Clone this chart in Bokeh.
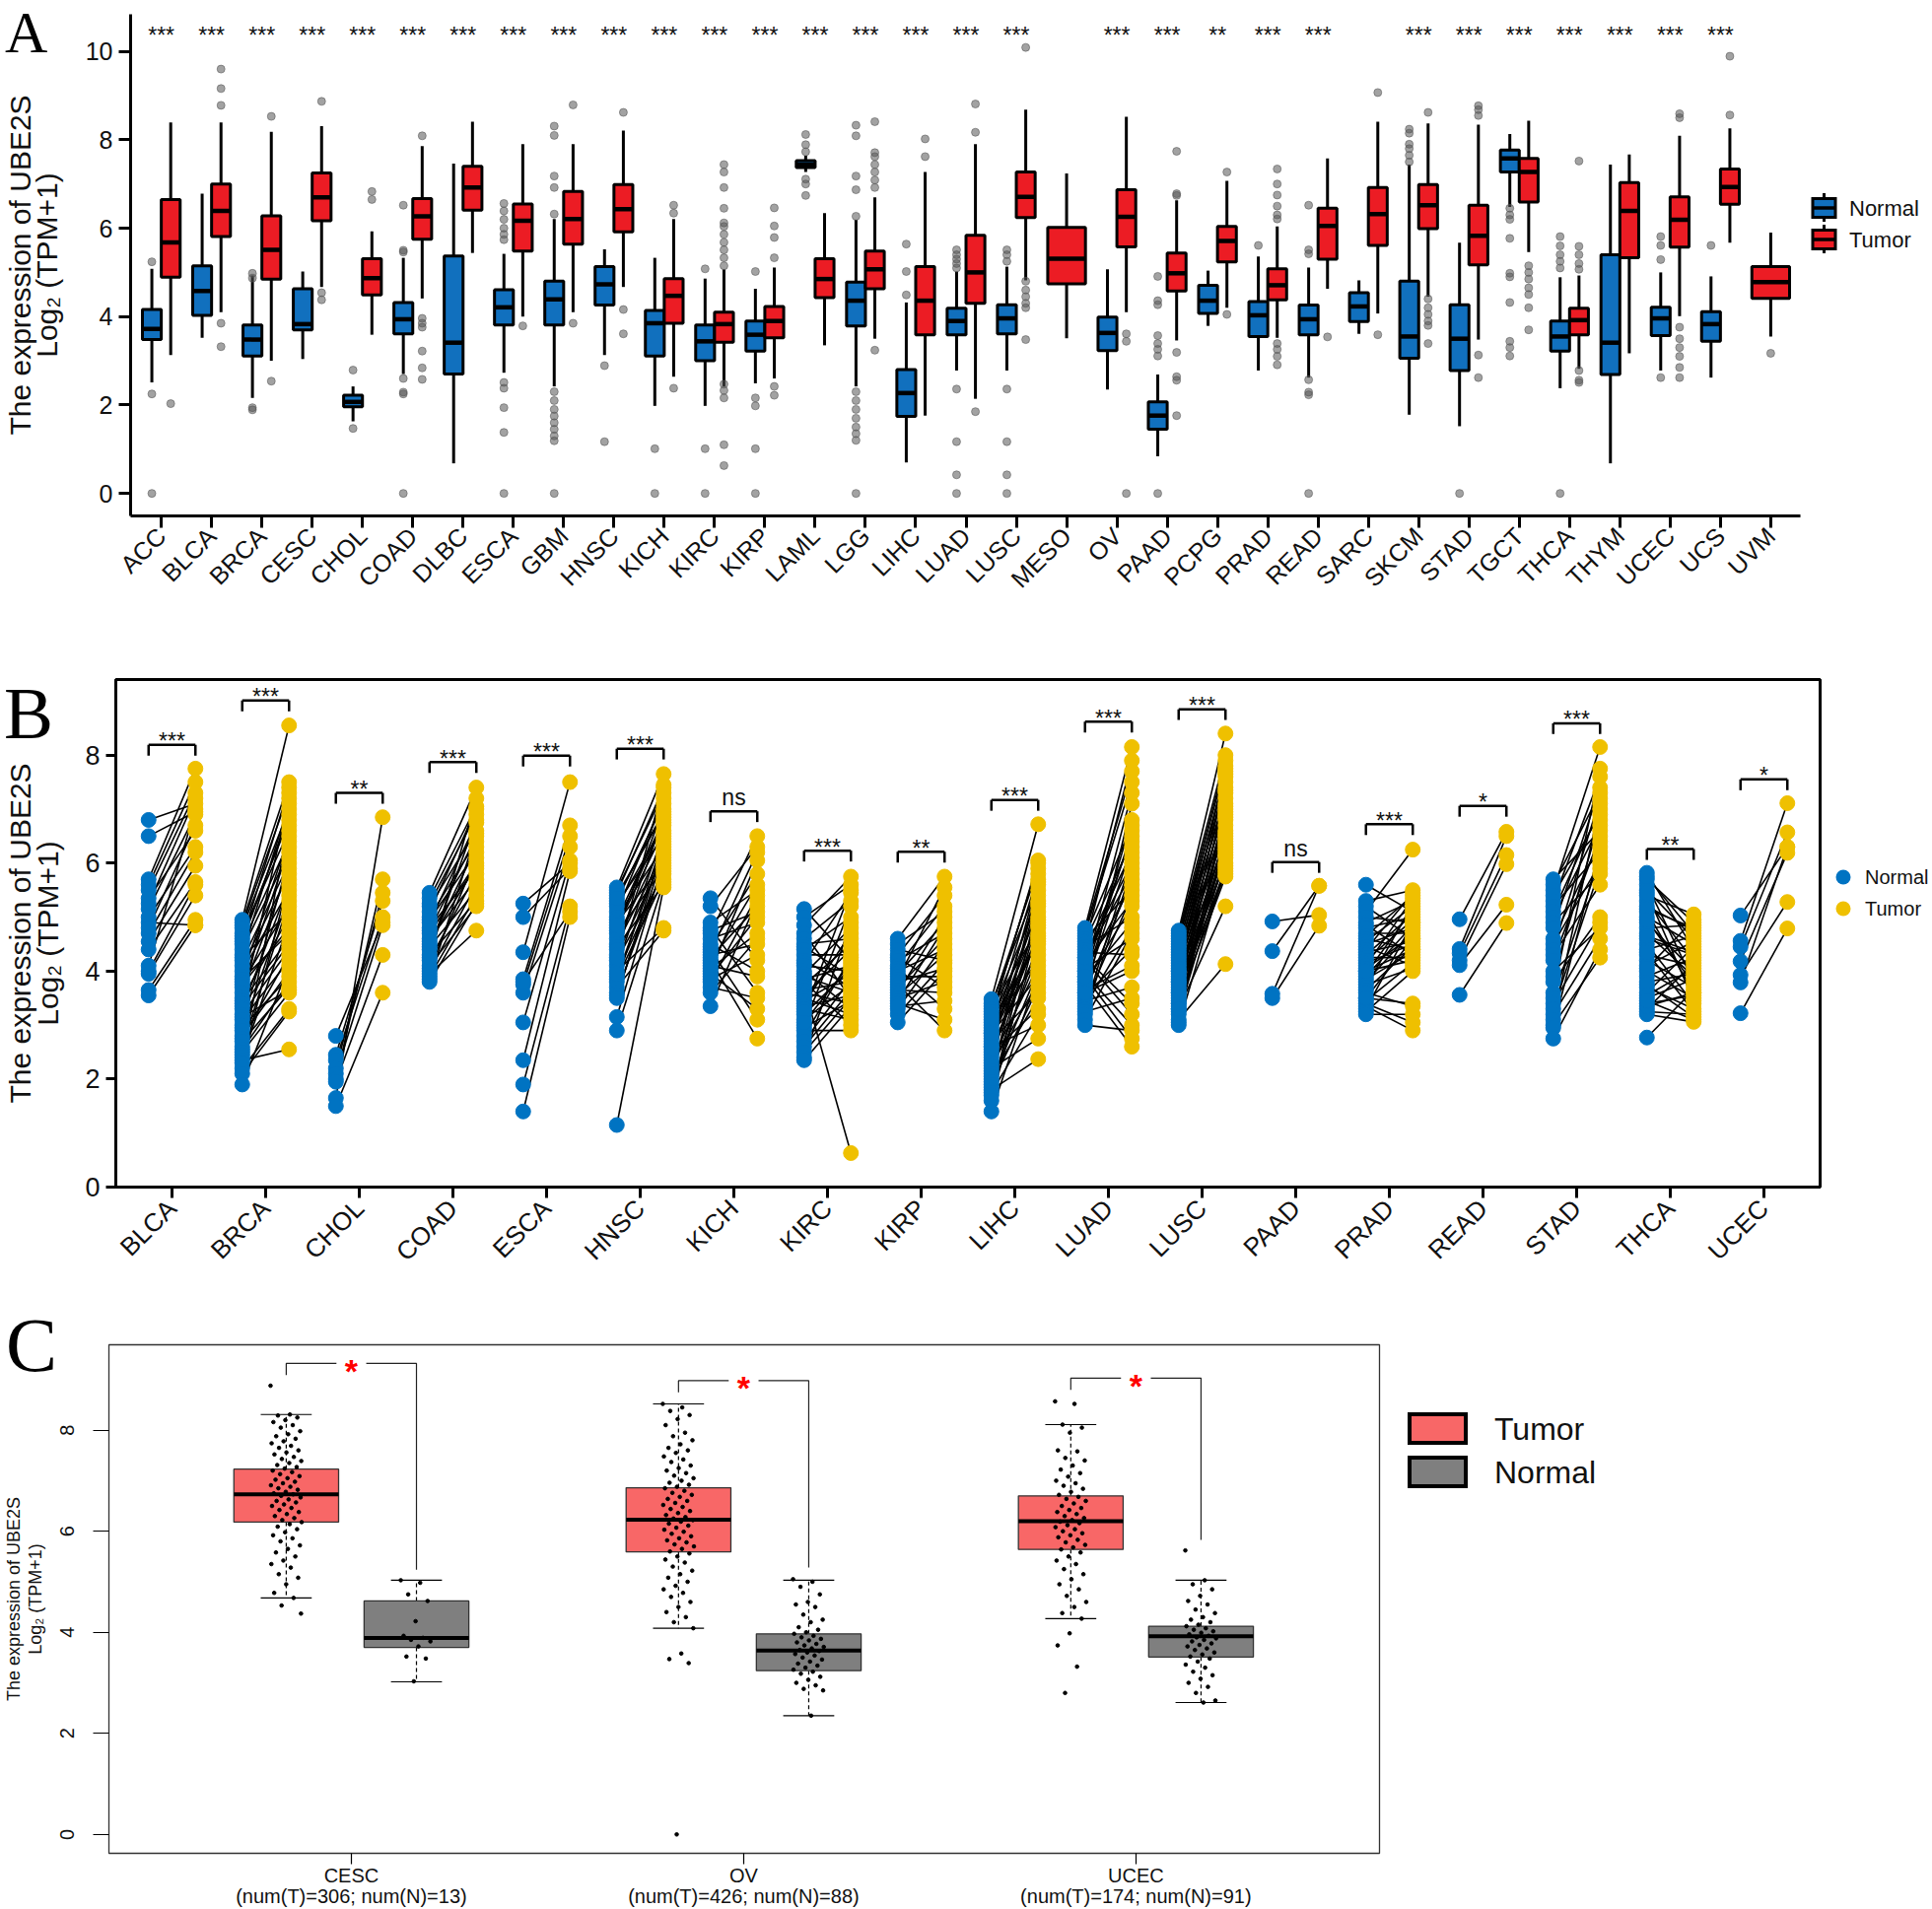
import math
from bokeh.plotting import figure
from bokeh.models import FixedTicker, Range1d, LinearAxis, Div
from bokeh.embed import file_html
from bokeh.resources import INLINE
from bokeh.core.properties import value

SANS = "Liberation Sans"
SERIF = "Liberation Serif"

# ================= Panel A data =================
A_CATS = ["ACC", "BLCA", "BRCA", "CESC", "CHOL", "COAD", "DLBC", "ESCA", "GBM", "HNSC", "KICH",
          "KIRC", "KIRP", "LAML", "LGG", "LIHC", "LUAD", "LUSC", "MESO", "OV", "PAAD", "PCPG",
          "PRAD", "READ", "SARC", "SKCM", "STAD", "TGCT", "THCA", "THYM", "UCEC", "UCS", "UVM"]
A_SIG = ["***"] * 18 + ["", "***", "***", "**", "***", "***", "", "***", "***", "***", "***", "***", "***", "***", ""]
A_GROUPS = ["Normal", "Tumor"]
# [lower whisker, q1, median, q3, upper whisker]
A_NORMAL = [
    [2.51, 3.48, 3.72, 4.16, 5.08], [3.52, 4.03, 4.58, 5.15, 6.78], [2.16, 3.11, 3.48, 3.81, 4.93],
    [3.04, 3.70, 3.83, 4.63, 5.02], [1.63, 1.96, 2.07, 2.22, 2.42], [2.70, 3.61, 3.94, 4.32, 5.33],
    [0.68, 2.70, 3.41, 5.37, 7.46], [2.73, 3.81, 4.21, 4.61, 5.42], [2.42, 3.81, 4.39, 4.80, 6.21],
    [3.13, 4.26, 4.73, 5.13, 5.52], [1.98, 3.11, 3.85, 4.14, 5.33], [1.98, 3.00, 3.44, 3.81, 4.86],
    [2.49, 3.22, 3.59, 3.90, 4.63], [7.27, 7.37, 7.44, 7.53, 7.64], [2.42, 3.79, 4.36, 4.78, 6.19],
    [0.70, 1.74, 2.27, 2.80, 4.32], [2.78, 3.59, 3.90, 4.19, 5.02], [2.78, 3.61, 3.96, 4.27, 5.13],
    None, [2.35, 3.23, 3.63, 3.99, 5.07], [0.84, 1.45, 1.76, 2.07, 2.69], [3.79, 4.07, 4.36, 4.71, 5.04],
    [2.78, 3.55, 4.03, 4.34, 5.36], [2.62, 3.59, 3.94, 4.26, 5.11], [3.61, 3.89, 4.23, 4.54, 4.82],
    [1.78, 3.06, 3.55, 4.80, 7.44], [1.52, 2.78, 3.50, 4.27, 5.67], [6.48, 7.27, 7.58, 7.77, 8.13],
    [2.38, 3.22, 3.55, 3.90, 4.89], [0.68, 2.69, 3.41, 5.40, 7.44], [2.78, 3.57, 3.96, 4.21, 5.00],
    [2.62, 3.44, 3.83, 4.11, 4.91], None]
A_TUMOR = [
    [3.13, 4.89, 5.68, 6.65, 8.39], [4.10, 5.81, 6.39, 7.00, 8.39], [3.00, 4.85, 5.51, 6.28, 8.18],
    [4.67, 6.17, 6.70, 7.25, 8.31], [3.59, 4.49, 4.87, 5.31, 5.93], [4.41, 5.75, 6.27, 6.67, 7.86],
    [5.44, 6.41, 6.92, 7.40, 8.41], [4.00, 5.48, 6.17, 6.55, 7.90], [4.10, 5.64, 6.21, 6.83, 7.90],
    [4.67, 5.92, 6.43, 6.99, 8.21], [2.64, 3.85, 4.47, 4.86, 6.21], [2.42, 3.42, 3.83, 4.10, 5.07],
    [2.60, 3.52, 3.90, 4.23, 5.11], [3.35, 4.43, 4.85, 5.31, 6.34], [3.50, 4.63, 5.07, 5.48, 6.70],
    [1.76, 3.59, 4.36, 5.13, 7.27], [2.14, 4.30, 5.00, 5.84, 7.90], [4.82, 6.24, 6.71, 7.27, 8.68],
    [3.51, 4.74, 5.31, 6.02, 7.24], [4.10, 5.58, 6.26, 6.87, 8.52], [3.46, 4.58, 4.98, 5.44, 6.63],
    [4.20, 5.24, 5.71, 6.04, 7.07], [3.52, 4.38, 4.71, 5.08, 6.04], [4.63, 5.30, 6.05, 6.45, 7.58],
    [4.07, 5.61, 6.32, 6.92, 8.41], [4.45, 5.99, 6.52, 6.99, 8.37], [3.48, 5.17, 5.83, 6.52, 8.34],
    [5.46, 6.59, 7.27, 7.58, 8.43], [2.82, 3.59, 3.92, 4.19, 4.93], [3.17, 5.33, 6.39, 7.03, 7.67],
    [4.01, 5.57, 6.19, 6.71, 8.09], [5.67, 6.54, 6.93, 7.34, 8.26], [3.55, 4.41, 4.78, 5.13, 5.90]]
A_NORMAL_OUT = [
    [5.24, 2.25, 0], [], [4.98, 4.87, 1.94, 1.89], [], [2.79, 1.47],
    [6.52, 5.5, 5.46, 2.6, 2.29, 2.25, 0], [],
    [6.56, 6.39, 6.2, 6.0, 5.86, 5.74, 2.51, 2.38, 1.94, 1.38, 0],
    [8.31, 8.1, 7.18, 6.92, 6.32, 2.3, 2.1, 1.9, 1.75, 1.6, 1.45, 1.3, 1.19, 0],
    [2.89, 1.17], [1.01, 0], [5.08, 1.01, 0], [5.02, 2.16, 1.98, 1.01, 0],
    [8.12, 7.89, 7.73, 7.11, 7.0, 6.74],
    [8.33, 8.09, 7.18, 6.87, 6.27, 2.3, 2.1, 1.9, 1.7, 1.5, 1.35, 1.2, 0],
    [5.64, 5.02, 4.49], [5.51, 5.4, 5.3, 5.2, 5.1, 2.36, 1.17, 0.42, 0],
    [5.51, 5.4, 5.25, 2.36, 1.17, 0.42, 0], [], [], [4.91, 4.36, 4.27, 3.57, 3.39, 3.26, 3.11, 0],
    [], [5.61], [6.52, 5.51, 5.42, 2.57, 2.29, 2.23, 0], [], [8.24, 8.15, 7.9, 7.8, 7.65, 7.5],
    [0], [6.45, 6.3, 6.2, 5.77, 4.98, 4.9, 4.32, 3.44, 3.3, 3.11], [5.81, 5.6, 5.4, 5.25, 5.1, 0],
    [], [5.81, 5.61, 5.29, 2.62], [5.61], []]
A_TUMOR_OUT = [
    [2.03], [9.6, 9.16, 8.78, 3.85, 3.32], [8.53, 2.54], [8.87, 4.54, 4.38], [6.83, 6.65],
    [8.09, 3.96, 3.85, 3.76, 3.22, 2.84, 2.58], [], [3.79], [8.79, 3.85], [8.62, 4.16, 3.61],
    [6.52, 6.34, 2.38],
    [7.44, 7.27, 6.92, 6.45, 6.12, 6.04, 5.86, 5.68, 5.51, 5.33, 5.15, 2.47, 2.33, 2.16, 1.1, 0.63],
    [6.46, 6.05, 5.79, 5.33, 2.42, 2.22], [], [8.41, 7.71, 7.62, 7.44, 7.27, 7.09, 6.92, 3.24],
    [8.02, 7.62], [8.81, 8.17, 1.85], [10.09, 4.8, 4.6, 4.45, 4.3, 4.2, 3.48], [],
    [3.61, 3.44, 0], [7.74, 6.78, 6.74, 3.19, 2.64, 2.56, 1.76], [7.27, 4.05],
    [7.34, 7.0, 6.75, 6.5, 6.3, 6.21, 3.39, 3.26, 3.1, 2.91], [3.54], [9.07, 3.59],
    [8.62, 4.4, 4.2, 4.05, 3.9, 3.8, 3.39], [8.77, 8.68, 8.55, 3.13, 2.62],
    [5.15, 5.0, 4.85, 4.65, 4.5, 4.2, 3.7], [7.52, 5.59, 5.4, 5.2, 5.07, 2.78, 2.56, 2.51], [],
    [8.59, 8.5, 3.76, 3.5, 3.3, 3.1, 2.85, 2.62], [9.89, 8.56], [3.17]]

# ================= Panel B data (normal, tumor) pairs =================
B_CATS = ["BLCA", "BRCA", "CHOL", "COAD", "ESCA", "HNSC", "KICH", "KIRC", "KIRP", "LIHC",
          "LUAD", "LUSC", "PAAD", "PRAD", "READ", "STAD", "THCA", "UCEC"]
B_SIG = ["***", "***", "**", "***", "***", "***", "ns", "***", "**", "***", "***", "***", "ns",
         "***", "*", "***", "**", "*"]
B_BRACKET = [8.19, 9.01, 7.30, 7.87, 7.99, 8.12, 6.96, 6.23, 6.21, 7.17, 8.62, 8.85, 6.02,
             6.72, 7.06, 8.59, 6.26, 7.55]
BLCA_PAIRS = [(6.8, 7.1), (6.5, 6.95), (5.7, 7.75), (5.6, 7.5), (5.5, 7.3), (5.35, 6.6), (5.25, 7.2),
              (5.15, 6.9), (5.0, 6.3), (4.9, 4.85), (4.8, 6.7), (4.7, 6.2), (4.55, 5.95), (4.4, 5.65),
              (4.1, 7.0), (4.0, 5.6), (3.95, 5.4), (3.65, 4.95), (3.55, 4.85)]
BRCA_PAIRS = [(4.95, 8.55), (4.9, 7.5), (4.85, 7.3), (4.8, 7.0), (4.7, 6.6), (4.65, 6.8), (4.6, 7.4),
              (4.55, 6.9), (4.5, 6.4), (4.4, 6.2), (4.3, 7.1), (4.25, 5.1), (4.2, 6.0), (4.1, 5.8),
              (4.0, 5.5), (3.9, 6.5), (3.85, 4.7), (3.8, 5.2), (3.75, 4.8), (3.7, 6.3), (3.6, 5.9),
              (3.5, 5.0), (3.45, 4.6), (3.4, 7.2), (3.35, 4.5), (3.3, 5.6), (3.2, 4.4), (3.15, 3.65),
              (3.1, 4.2), (3.0, 6.1), (2.95, 3.9), (2.9, 5.4), (2.8, 4.0), (2.75, 4.3), (2.7, 3.7),
              (2.6, 5.3), (2.55, 3.8), (2.5, 3.6), (2.45, 6.7), (2.4, 4.9), (2.35, 2.55), (2.3, 5.7),
              (2.2, 3.3), (2.1, 3.25), (1.9, 4.1)]
CHOL_PAIRS = [(2.8, 4.9), (2.45, 5.3), (2.35, 5.0), (2.2, 5.45), (2.1, 4.85), (2.0, 5.7), (1.95, 4.3),
              (1.65, 6.85), (1.5, 3.6)]
COAD_PAIRS = [(5.45, 7.4), (5.35, 7.05), (5.25, 6.9), (5.2, 6.6), (5.1, 7.0), (5.0, 6.4), (4.95, 6.2),
              (4.9, 6.75), (4.8, 5.9), (4.75, 6.5), (4.7, 6.0), (4.6, 5.7), (4.5, 6.3), (4.45, 5.5),
              (4.4, 6.8), (4.3, 5.3), (4.2, 5.8), (4.1, 5.2), (4.05, 6.1), (4.0, 5.6), (3.95, 4.75),
              (3.9, 5.4), (3.85, 6.55), (3.8, 5.25), (4.25, 7.2), (4.55, 5.95)]
ESCA_PAIRS = [(5.25, 6.0), (5.0, 5.9), (4.35, 7.5), (3.85, 6.7), (3.75, 6.5), (3.6, 6.3), (3.05, 6.05),
              (2.35, 5.85), (1.9, 5.2), (1.4, 5.0), (3.8, 5.1)]
HNSC_PAIRS = [(5.55, 7.65), (5.5, 7.3), (5.45, 7.4), (5.4, 6.9), (5.3, 7.1), (5.25, 6.5), (5.2, 6.7),
              (5.1, 7.2), (5.0, 6.3), (4.95, 6.8), (4.9, 6.0), (4.8, 6.6), (4.75, 7.0), (4.7, 5.9),
              (4.6, 6.4), (4.5, 6.2), (4.45, 5.6), (4.4, 6.85), (4.3, 6.1), (4.2, 5.8), (4.1, 6.55),
              (4.0, 4.8), (3.9, 6.25), (3.85, 5.7), (3.8, 6.45), (3.7, 4.75), (3.6, 5.95), (3.55, 6.15),
              (3.5, 6.35), (3.15, 6.05), (2.9, 5.65), (1.15, 5.55), (5.35, 6.95), (4.85, 6.75),
              (4.25, 7.45), (3.95, 5.85)]
KICH_PAIRS = [(5.35, 4.2), (5.2, 6.3), (4.9, 5.5), (4.8, 3.6), (4.7, 6.5), (4.6, 4.9), (4.45, 5.8),
              (4.4, 3.1), (4.35, 6.2), (4.3, 4.5), (4.25, 5.2), (4.2, 2.75), (4.15, 5.6), (4.1, 3.9),
              (4.05, 4.7), (4.0, 6.05), (3.95, 3.3), (3.9, 5.0), (3.85, 4.3), (3.8, 5.4), (3.7, 3.5),
              (3.6, 4.6), (3.35, 5.3), (4.5, 4.0), (4.75, 5.1)]
KIRC_PAIRS = [(5.15, 4.2), (5.0, 5.6), (4.85, 5.75), (4.7, 3.5), (4.6, 5.3), (4.5, 4.6), (4.45, 3.9),
              (4.4, 5.0), (4.3, 4.3), (4.2, 3.7), (4.15, 5.45), (4.1, 4.0), (4.0, 3.3), (3.95, 4.8),
              (3.9, 3.6), (3.85, 4.1), (3.8, 3.0), (3.75, 4.5), (3.7, 0.63), (3.65, 3.8), (3.6, 3.4),
              (3.55, 4.4), (3.5, 3.2), (3.45, 3.95), (3.4, 4.7), (3.35, 3.55), (3.3, 3.1), (3.2, 4.05),
              (3.1, 3.75), (3.0, 5.2), (2.95, 3.45), (2.9, 2.9), (2.8, 4.25), (2.7, 3.85), (2.6, 3.65),
              (2.5, 3.5), (2.4, 4.9), (2.35, 3.35), (3.25, 5.5), (3.05, 4.15)]
KIRP_PAIRS = [(4.6, 5.75), (4.5, 5.1), (4.4, 4.2), (4.3, 5.4), (4.25, 3.7), (4.2, 4.7), (4.1, 5.2),
              (4.05, 3.3), (4.0, 4.4), (3.95, 4.9), (3.9, 3.9), (3.85, 5.55), (3.8, 4.05), (3.75, 2.9),
              (3.7, 4.6), (3.65, 3.6), (3.6, 5.0), (3.55, 4.3), (3.5, 3.8), (3.45, 4.8), (3.4, 3.1),
              (3.3, 4.5), (3.2, 4.15), (3.05, 4.0), (3.35, 3.45)]
LIHC_PAIRS = [(3.48, 6.72), (3.4, 5.6), (3.35, 5.9), (3.3, 4.8), (3.25, 5.3), (3.2, 6.0), (3.1, 4.5),
              (3.05, 5.1), (3.0, 4.2), (2.95, 5.8), (2.9, 4.9), (2.85, 3.9), (2.8, 5.5), (2.75, 4.6),
              (2.7, 3.6), (2.65, 5.2), (2.6, 4.4), (2.55, 5.7), (2.5, 3.3), (2.45, 4.7), (2.4, 5.0),
              (2.35, 4.1), (2.3, 5.4), (2.25, 3.8), (2.2, 2.75), (2.15, 4.3), (2.1, 4.95), (2.05, 3.5),
              (2.0, 5.65), (1.95, 4.0), (1.9, 3.7), (1.85, 4.55), (1.8, 2.37), (1.75, 3.2), (1.7, 5.25),
              (1.6, 4.85), (1.4, 3.95), (2.6, 3.0), (3.15, 6.05), (2.85, 4.65)]
LUAD_PAIRS = [(4.8, 8.15), (4.75, 7.7), (4.7, 7.5), (4.65, 6.7), (4.6, 5.5), (4.55, 6.4), (4.5, 7.9),
              (4.45, 5.0), (4.4, 6.2), (4.35, 4.3), (4.3, 6.0), (4.25, 5.8), (4.2, 3.2), (4.15, 5.3),
              (4.1, 6.5), (4.05, 4.6), (4.0, 5.6), (3.95, 3.0), (3.9, 6.8), (3.85, 4.9), (3.8, 5.2),
              (3.75, 2.6), (3.7, 6.3), (3.65, 4.1), (3.6, 5.7), (3.55, 4.4), (3.5, 7.1), (3.45, 3.7),
              (3.4, 5.4), (3.35, 4.8), (3.3, 6.1), (3.25, 3.5), (3.2, 5.9), (3.1, 4.7), (3.0, 2.9),
              (4.0, 7.3), (3.8, 6.6), (3.6, 4.0), (4.25, 3.4), (3.9, 2.75)]
LUSC_PAIRS = [(4.75, 8.4), (4.7, 8.0), (4.65, 7.8), (4.6, 7.6), (4.55, 7.9), (4.5, 7.4), (4.45, 7.7),
              (4.4, 7.2), (4.35, 7.5), (4.3, 7.0), (4.25, 7.3), (4.2, 6.8), (4.15, 7.1), (4.1, 6.6),
              (4.05, 6.9), (4.0, 6.4), (3.95, 6.7), (3.9, 6.2), (3.85, 6.5), (3.8, 6.0), (3.75, 6.3),
              (3.7, 5.8), (3.65, 6.1), (3.6, 5.9), (3.55, 7.65), (3.5, 6.55), (3.45, 5.75), (3.4, 7.35),
              (3.35, 6.45), (3.3, 5.2), (3.25, 6.85), (3.2, 6.15), (3.1, 4.13), (3.05, 7.05),
              (3.0, 5.95), (4.0, 7.75), (3.8, 6.95), (3.6, 6.25), (3.4, 5.85), (3.3, 6.35)]
PAAD_PAIRS = [(4.92, 5.04), (4.37, 5.58), (3.58, 5.58), (3.5, 4.84)]
PRAD_PAIRS = [(5.6, 5.1), (5.3, 5.5), (5.2, 4.6), (5.1, 6.25), (5.0, 4.9), (4.9, 5.3), (4.85, 4.3),
              (4.8, 5.0), (4.7, 4.7), (4.65, 5.4), (4.6, 4.4), (4.55, 5.2), (4.5, 4.8), (4.45, 4.1),
              (4.4, 5.45), (4.35, 4.55), (4.3, 5.05), (4.25, 4.25), (4.2, 4.95), (4.15, 4.5),
              (4.1, 5.35), (4.05, 4.65), (4.0, 4.2), (3.95, 5.15), (3.9, 4.85), (3.85, 4.35),
              (3.8, 4.75), (3.75, 4.05), (3.7, 5.25), (3.65, 4.45), (3.6, 3.35), (3.5, 4.6),
              (3.45, 4.15), (3.4, 3.05), (3.35, 2.9), (3.3, 4.9), (3.25, 4.0), (3.2, 3.2), (3.5, 3.4),
              (4.0, 4.4)]
READ_PAIRS = [(4.96, 6.58), (4.41, 6.5), (4.33, 6.15), (4.2, 5.98), (4.11, 5.23), (3.56, 4.89)]
STAD_PAIRS = [(5.7, 6.6), (5.6, 7.3), (5.5, 8.15), (5.4, 6.9), (5.3, 7.6), (5.2, 6.2), (5.1, 7.0),
              (5.0, 6.7), (4.9, 5.8), (4.8, 7.4), (4.6, 6.4), (4.5, 6.0), (4.4, 7.2), (4.3, 5.6),
              (4.2, 6.5), (4.0, 4.8), (3.9, 6.8), (3.8, 5.0), (3.6, 7.75), (3.5, 6.1), (3.4, 4.9),
              (3.3, 5.9), (3.2, 4.6), (3.1, 7.1), (3.0, 4.25), (2.95, 6.3), (2.75, 4.4)]
THCA_PAIRS = [(5.82, 4.4), (5.7, 4.9), (5.6, 3.8), (5.5, 4.6), (5.4, 5.05), (5.3, 4.2), (5.2, 4.75),
              (5.1, 3.6), (5.0, 4.5), (4.9, 4.0), (4.8, 4.85), (4.7, 3.9), (4.6, 4.3), (4.5, 3.4),
              (4.4, 4.65), (4.3, 4.1), (4.2, 3.7), (4.1, 4.55), (4.0, 3.5), (3.9, 4.25), (3.8, 3.95),
              (3.7, 3.3), (3.6, 4.45), (3.5, 3.85), (3.4, 3.55), (3.3, 4.15), (3.25, 3.2), (3.2, 3.06),
              (2.77, 3.65), (5.75, 4.7), (5.45, 3.45), (5.15, 4.8), (4.95, 3.75), (4.65, 4.35),
              (4.35, 3.25), (4.05, 4.95), (3.75, 3.15), (3.55, 4.05), (3.35, 3.6), (3.45, 3.1)]
UCEC_PAIRS = [(5.03, 6.3), (4.56, 7.11), (4.45, 6.57), (4.18, 6.19), (3.93, 5.28), (3.79, 6.3),
              (3.22, 4.79)]
B_PAIRS = [BLCA_PAIRS, BRCA_PAIRS, CHOL_PAIRS, COAD_PAIRS, ESCA_PAIRS, HNSC_PAIRS, KICH_PAIRS,
           KIRC_PAIRS, KIRP_PAIRS, LIHC_PAIRS, LUAD_PAIRS, LUSC_PAIRS, PAAD_PAIRS, PRAD_PAIRS,
           READ_PAIRS, STAD_PAIRS, THCA_PAIRS, UCEC_PAIRS]

# ================= Panel C data =================
C_CATS = ["CESC", "OV", "UCEC"]
C_COUNTS = ["(num(T)=306; num(N)=13)", "(num(T)=426; num(N)=88)", "(num(T)=174; num(N)=91)"]
C_GROUPS = ["Tumor", "Normal"]
C_T_STATS = [[4.68, 6.18, 6.73, 7.23, 8.31], [4.08, 5.59, 6.23, 6.86, 8.52], [4.27, 5.64, 6.20, 6.70, 8.11]]
C_N_STATS = [[3.02, 3.70, 3.89, 4.62, 5.03], [2.35, 3.24, 3.64, 3.97, 5.03], [2.61, 3.51, 3.92, 4.12, 5.03]]
C_BRACKET_TOP = [9.32, 8.98, 9.03]
C_BRACKET_LEFT_END = [9.09, 8.75, 8.80]
C_BRACKET_RIGHT_END = [5.24, 5.28, 5.83]
CESC_T_PTS = [8.88, 8.31, 8.29, 8.25, 8.2, 8.16, 8.1, 8.05, 7.98, 7.92, 7.88, 7.83, 7.78, 7.74, 7.69,
              7.65, 7.6, 7.56, 7.52, 7.47, 7.43, 7.39, 7.35, 7.31, 7.27, 7.24, 7.2, 7.17, 7.13, 7.09,
              7.05, 7.02, 6.98, 6.95, 6.91, 6.88, 6.85, 6.82, 6.78, 6.75, 6.73, 6.7, 6.67, 6.63, 6.6,
              6.57, 6.53, 6.5, 6.46, 6.42, 6.38, 6.34, 6.3, 6.26, 6.22, 6.18, 6.14, 6.09, 6.04, 5.98,
              5.92, 5.86, 5.8, 5.72, 5.65, 5.58, 5.5, 5.42, 5.35, 5.28, 5.15, 5.08, 4.95, 4.78, 4.68,
              4.53, 4.37]
OV_T_PTS = [8.52, 8.45, 8.38, 8.3, 8.22, 8.1, 7.95, 7.88, 7.8, 7.72, 7.65, 7.6, 7.55, 7.48, 7.42, 7.37,
            7.3, 7.25, 7.2, 7.15, 7.1, 7.05, 7.0, 6.96, 6.92, 6.88, 6.85, 6.8, 6.76, 6.72, 6.68, 6.64,
            6.6, 6.56, 6.52, 6.48, 6.44, 6.4, 6.36, 6.32, 6.28, 6.25, 6.22, 6.19, 6.15, 6.11, 6.07,
            6.03, 5.99, 5.95, 5.9, 5.86, 5.82, 5.78, 5.74, 5.7, 5.65, 5.6, 5.56, 5.5, 5.44, 5.38, 5.3,
            5.22, 5.15, 5.08, 5.0, 4.92, 4.85, 4.78, 4.7, 4.6, 4.5, 4.4, 4.3, 4.2, 4.08, 3.58, 3.47,
            3.39, 0.0]
UCEC_T_PTS = [8.57, 8.52, 8.11, 8.05, 7.95, 7.6, 7.58, 7.45, 7.4, 7.3, 7.22, 7.15, 7.08, 7.0, 6.95,
              6.9, 6.84, 6.78, 6.72, 6.68, 6.64, 6.6, 6.55, 6.5, 6.46, 6.42, 6.38, 6.34, 6.3, 6.26,
              6.22, 6.19, 6.16, 6.12, 6.08, 6.04, 6.0, 5.96, 5.92, 5.88, 5.83, 5.78, 5.73, 5.68, 5.64,
              5.58, 5.5, 5.42, 5.35, 5.25, 5.15, 5.05, 4.95, 4.85, 4.72, 4.6, 4.5, 4.38, 4.27, 3.98,
              3.74, 3.32, 2.8]
CESC_N_PTS = [5.03, 4.98, 4.75, 4.62, 4.22, 3.93, 3.89, 3.85, 3.82, 3.72, 3.52, 3.48, 3.03]
OV_N_PTS = [5.05, 5.0, 4.9, 4.75, 4.6, 4.55, 4.5, 4.35, 4.25, 4.2, 4.1, 4.05, 4.0, 3.97, 3.93, 3.9,
            3.87, 3.84, 3.8, 3.77, 3.74, 3.71, 3.68, 3.65, 3.63, 3.6, 3.57, 3.54, 3.5, 3.46, 3.42,
            3.38, 3.34, 3.3, 3.26, 3.22, 3.18, 3.12, 3.06, 3.0, 2.95, 2.88, 2.85, 2.35]
UCEC_N_PTS = [5.62, 5.03, 4.95, 4.85, 4.72, 4.62, 4.55, 4.45, 4.38, 4.3, 4.25, 4.2, 4.15, 4.12, 4.08,
              4.05, 4.02, 3.99, 3.96, 3.93, 3.9, 3.88, 3.85, 3.82, 3.78, 3.75, 3.72, 3.68, 3.65, 3.6,
              3.56, 3.52, 3.48, 3.42, 3.36, 3.3, 3.22, 3.15, 3.08, 3.0, 2.92, 2.8, 2.65, 2.61]
C_T_PTS = [CESC_T_PTS, OV_T_PTS, UCEC_T_PTS]
C_N_PTS = [CESC_N_PTS, OV_N_PTS, UCEC_N_PTS]

# ================= styles =================
A_BLUE, A_RED = "#1170BE", "#EC1C24"
B_BLUE, B_YEL = "#0073C2", "#EFC000"
C_RED, C_GRAY = "#F86767", "#7F7F7F"
TXT = "#111111"
W = 1960


def base_axes(p, lw, tick_out, font_size):
    p.grid.visible = False
    for ax in (p.xaxis, p.yaxis):
        ax.axis_line_width = lw
        ax.axis_line_color = "black"
        ax.major_tick_line_width = lw
        ax.major_tick_line_color = "black"
        ax.major_tick_in = 0
        ax.major_tick_out = tick_out
        ax.minor_tick_line_color = None
        ax.major_label_text_font = SANS
        ax.major_label_text_font_size = font_size
        ax.major_label_text_color = TXT
        ax.axis_label_text_font = SANS
        ax.axis_label_text_font_style = "normal"
        ax.axis_label_text_color = TXT


def title_axis(text, size, standoff):
    return LinearAxis(ticker=FixedTicker(ticks=[]), axis_label=text, axis_line_color=None,
                      major_tick_line_color=None, minor_tick_line_color=None,
                      major_label_text_font_size="0px", axis_label_standoff=standoff,
                      axis_label_text_font=SANS, axis_label_text_font_size=size,
                      axis_label_text_font_style="normal", axis_label_text_color=TXT)


def overlay(html, left, top, extra=None):
    st = {"position": "absolute", "left": f"{left}px", "top": f"{top}px", "margin": "0",
          "padding": "0", "z-index": "5", "color": "black"}
    if extra:
        st.update(extra)
    return Div(text=html, styles=st)


def letter(t, left, top, size):
    return overlay(t, left, top, {"font-family": SERIF, "font-size": f"{size}px", "line-height": "0.85"})


def svg_wrap(w, h, body):
    return f'<svg xmlns="http://www.w3.org/2000/svg" width="{w}" height="{h}" style="display:block">{body}</svg>'


# ================= Panel A =================
pA = figure(width=W, height=640, x_range=Range1d(-0.61, 32.59), y_range=Range1d(-0.51, 10.84),
            output_backend="svg", toolbar_location=None, min_border_left=128, min_border_right=134,
            min_border_top=14, min_border_bottom=117)
pA.outline_line_color = None
base_axes(pA, 3, 12, "25px")
yA = pA.yaxis[0]
yA.ticker = FixedTicker(ticks=[0, 2, 4, 6, 8, 10])
yA.major_label_standoff = 6
yA.axis_label = "Log\u2082 (TPM+1)"
yA.axis_label_text_font_size = "30px"
yA.axis_label_standoff = 20
pA.xaxis.ticker = FixedTicker(ticks=list(range(len(A_CATS))))
pA.xaxis.major_label_overrides = {i: c for i, c in enumerate(A_CATS)}
pA.xaxis.major_label_orientation = math.pi / 4
pA.xaxis.major_label_standoff = 4
pA.add_layout(title_axis("The expression of UBE2S", "30px", -9), "left")

bx, bw, lo, q1, md, q3, hi, col = [], [], [], [], [], [], [], []
ox, oy = [], []
for i in range(len(A_CATS)):
    groups = [(A_NORMAL[i], A_NORMAL_OUT[i], A_BLUE), (A_TUMOR[i], A_TUMOR_OUT[i], A_RED)]
    present = [g for g in groups if g[0] is not None]
    if len(present) == 2:
        offs, w = [-0.1875, 0.1875], 0.375
    else:
        offs, w = [0.0], 0.75
    for (st, outs, c), off in zip(present, offs):
        x = i + off
        bx.append(x); bw.append(w); col.append(c)
        lo.append(st[0]); q1.append(st[1]); md.append(st[2]); q3.append(st[3]); hi.append(st[4])
        for o in outs:
            ox.append(x); oy.append(o)

pA.segment(x0=bx, y0=q3, x1=bx, y1=hi, line_color="black", line_width=3)
pA.segment(x0=bx, y0=q1, x1=bx, y1=lo, line_color="black", line_width=3)
pA.scatter(ox, oy, size=8, color="#555555", alpha=0.55)
pA.vbar(x=bx, width=bw, top=q3, bottom=q1, fill_color=col, line_color="black", line_width=3)
pA.segment(x0=[x - w / 2 for x, w in zip(bx, bw)], y0=md, x1=[x + w / 2 for x, w in zip(bx, bw)],
           y1=md, line_color="black", line_width=4.5)
sx = [i for i, s in enumerate(A_SIG) if s]
pA.text(x=sx, y=[10.35] * len(sx), text=[A_SIG[i] for i in sx], text_font=value(SANS),
        text_font_size="23px", text_align="center", text_baseline="middle", text_color=TXT)

legA_body = ""
for k, (lab, c) in enumerate(zip(A_GROUPS, [A_BLUE, A_RED])):
    cy = 21 + 32 * k
    legA_body += (f'<line x1="20.5" y1="{cy - 15}" x2="20.5" y2="{cy + 14}" stroke="black" stroke-width="3"/>'
                  f'<rect x="9" y="{cy - 9.5}" width="23" height="19" fill="{c}" stroke="black" stroke-width="3"/>'
                  f'<line x1="9" y1="{cy}" x2="32" y2="{cy}" stroke="black" stroke-width="3.5"/>'
                  f'<text x="46" y="{cy}" dominant-baseline="central" font-family="{SANS}" font-size="22" fill="{TXT}">{lab}</text>')
legA = overlay(svg_wrap(130, 75, legA_body), 1830, 190)

# ================= Panel B =================
pB = figure(width=W, height=680, x_range=Range1d(-0.6, 17.6), y_range=Range1d(0, 9.4),
            output_backend="svg", toolbar_location=None, min_border_left=114, min_border_right=114,
            min_border_top=49, min_border_bottom=116)
pB.outline_line_color = "black"
pB.outline_line_width = 3
base_axes(pB, 3, 11, "26px")
yB = pB.yaxis[0]
yB.ticker = FixedTicker(ticks=[0, 2, 4, 6, 8])
yB.major_label_text_font_size = "27px"
yB.major_tick_out = 10
yB.major_label_standoff = 6
yB.axis_label = "Log\u2082 (TPM+1)"
yB.axis_label_text_font_size = "30px"
yB.axis_label_standoff = 18
pB.xaxis.ticker = FixedTicker(ticks=list(range(len(B_CATS))))
pB.xaxis.major_label_overrides = {i: c for i, c in enumerate(B_CATS)}
pB.xaxis.major_label_orientation = math.pi / 4
pB.xaxis.major_label_standoff = 6
pB.add_layout(title_axis("The expression of UBE2S", "30px", -7), "left")

nx, ny, tx, ty = [], [], [], []
for i, pairs in enumerate(B_PAIRS):
    for n, t in pairs:
        nx.append(i - 0.25); ny.append(n); tx.append(i + 0.25); ty.append(t)
pB.segment(x0=nx, y0=ny, x1=tx, y1=ty, line_color="black", line_width=1.6)
pB.scatter(nx, ny, size=15, color=B_BLUE)
pB.scatter(tx, ty, size=15, color=B_YEL)

bxl = [i - 0.25 for i in range(len(B_CATS))]
bxr = [i + 0.25 for i in range(len(B_CATS))]
pB.segment(x0=bxl, y0=B_BRACKET, x1=bxr, y1=B_BRACKET, line_color="black", line_width=2.5)
pB.segment(x0=bxl, y0=B_BRACKET, x1=bxl, y1=[h - 0.2 for h in B_BRACKET], line_color="black", line_width=2.5)
pB.segment(x0=bxr, y0=B_BRACKET, x1=bxr, y1=[h - 0.2 for h in B_BRACKET], line_color="black", line_width=2.5)
pB.text(x=list(range(len(B_CATS))), y=[h + (0.25 if s == "ns" else 0.065) for h, s in zip(B_BRACKET, B_SIG)],
        text=B_SIG, text_font=value(SANS), text_font_size="23px", text_align="center",
        text_baseline="middle", text_color=TXT)

legB_body = ""
for k, (lab, c) in enumerate(zip(A_GROUPS, [B_BLUE, B_YEL])):
    cy = 20 + 32 * k
    legB_body += (f'<circle cx="20" cy="{cy}" r="7.5" fill="{c}"/>'
                  f'<text x="42" y="{cy}" dominant-baseline="central" font-family="{SANS}" font-size="20" fill="{TXT}">{lab}</text>')
legB = overlay(svg_wrap(110, 72, legB_body), 1850, 870)

# ================= Panel C =================
pC = figure(width=W, height=617, x_range=Range1d(-0.618, 2.621), y_range=Range1d(-0.374, 9.69),
            output_backend="svg", toolbar_location=None, min_border_left=108, min_border_right=561,
            min_border_top=44, min_border_bottom=53)
pC.outline_line_color = "#333333"
pC.outline_line_width = 1.3
base_axes(pC, 1.2, 14, "20px")
pC.xaxis.axis_line_color = None
pC.yaxis.axis_line_color = None
yC = pC.yaxis[0]
yC.ticker = FixedTicker(ticks=[0, 2, 4, 6, 8])
yC.major_tick_out = 16
yC.major_label_orientation = "vertical"
yC.major_label_standoff = 19
yC.axis_label = "Log\u2082 (TPM+1)"
yC.axis_label_text_font_size = "18px"
yC.axis_label_standoff = 13
xC = pC.xaxis[0]
xC.ticker = FixedTicker(ticks=[0, 1, 2])
xC.major_tick_out = 11
xC.major_label_overrides = {i: c for i, c in enumerate(C_CATS)}
xC.major_label_standoff = 0
pC.add_layout(title_axis("The expression of UBE2S", "18px", -1), "left")
xC2 = LinearAxis(ticker=FixedTicker(ticks=[0, 1, 2]), axis_line_color=None, major_tick_line_color=None,
                 minor_tick_line_color=None, major_tick_out=0, major_tick_in=0,
                 major_label_overrides={i: c for i, c in enumerate(C_COUNTS)}, major_label_standoff=-4,
                 major_label_text_font=SANS, major_label_text_font_size="20px", major_label_text_color=TXT)
pC.add_layout(xC2, "below")

CW, CAP = 0.267, 0.065
for group_stats, pts_list, off, colr in [(C_T_STATS, C_T_PTS, -0.166, C_RED), (C_N_STATS, C_N_PTS, 0.166, C_GRAY)]:
    xs = [i + off for i in range(3)]
    lo_ = [s[0] for s in group_stats]; q1_ = [s[1] for s in group_stats]; md_ = [s[2] for s in group_stats]
    q3_ = [s[3] for s in group_stats]; hi_ = [s[4] for s in group_stats]
    pC.segment(x0=xs, y0=q3_, x1=xs, y1=hi_, line_color="black", line_width=1.2, line_dash="4 3")
    pC.segment(x0=xs, y0=q1_, x1=xs, y1=lo_, line_color="black", line_width=1.2, line_dash="4 3")
    pC.segment(x0=[x - CAP for x in xs], y0=hi_, x1=[x + CAP for x in xs], y1=hi_, line_color="black", line_width=1.2)
    pC.segment(x0=[x - CAP for x in xs], y0=lo_, x1=[x + CAP for x in xs], y1=lo_, line_color="black", line_width=1.2)
    pC.vbar(x=xs, width=CW, top=q3_, bottom=q1_, fill_color=colr, line_color="#333333", line_width=1.3)
    pC.segment(x0=[x - CW / 2 for x in xs], y0=md_, x1=[x + CW / 2 for x in xs], y1=md_, line_color="black", line_width=4)
    jx, jy = [], []
    for i, pts in enumerate(pts_list):
        for k, v in enumerate(pts):
            jx.append(i + off + (((k * 0.6180339887) % 1.0) - 0.5) * 0.08)
            jy.append(v)
    pC.scatter(jx, jy, size=3.6, color="black")

GAP = 0.038
for i in range(3):
    xt, xn = i - 0.166, i + 0.166
    h = C_BRACKET_TOP[i]
    pC.line([xt, xt, i - GAP], [C_BRACKET_LEFT_END[i], h, h], line_color="#222222", line_width=1.2)
    pC.line([i + GAP, xn, xn], [h, h, C_BRACKET_RIGHT_END[i]], line_color="#222222", line_width=1.2)
pC.text(x=[0, 1, 2], y=[h - 0.14 for h in C_BRACKET_TOP], text=["*"] * 3, text_font=value(SANS),
        text_font_size="34px", text_font_style="bold", text_color="red", text_align="center",
        text_baseline="middle")

legC_body = ""
for k, (lab, c) in enumerate(zip(C_GROUPS, [C_RED, C_GRAY])):
    top = 10 + 44 * k
    legC_body += (f'<rect x="10" y="{top}" width="57" height="29" fill="{c}" stroke="black" stroke-width="4"/>'
                  f'<text x="96" y="{top + 15}" dominant-baseline="central" font-family="{SERIF}" font-size="32" fill="{TXT}">{lab}</text>')
legC = overlay(svg_wrap(230, 96, legC_body), 1420, 1425)

roots = [pA, pB, pC, letter("A", 5, 8, 60), letter("B", 4, 692, 75), letter("C", 6, 1332, 78),
         legA, legB, legC]
open("out.html", "w").write(file_html(roots, INLINE))
